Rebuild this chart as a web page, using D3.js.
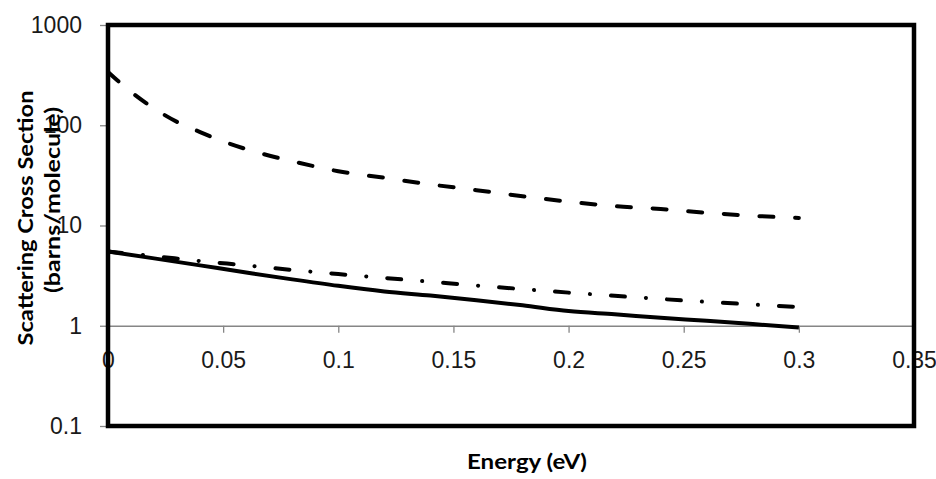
<!DOCTYPE html>
<html>
<head>
<meta charset="utf-8">
<script src="https://cdn.jsdelivr.net/npm/d3@7"></script>
<style>
  body { margin: 0; background: #fff; }
  svg { display: block; }
</style>
</head>
<body>
<svg id="chart" width="936" height="479"></svg>
<script>
// energy (eV) sample points
const energy = [0, 0.02, 0.04, 0.06, 0.08, 0.1, 0.12, 0.14, 0.16, 0.18, 0.2, 0.22, 0.24, 0.26, 0.28, 0.3]
const dashedEnergy = [0, 0.01, 0.02, 0.03, 0.04, 0.05, 0.06, 0.08, 0.1, 0.12, 0.14, 0.16, 0.18, 0.2, 0.22, 0.24, 0.26, 0.28, 0.3]

const dashedVals = [340, 215, 147, 108, 85.5, 69, 57.8, 43.8, 34.8, 29.9, 25.7, 22.5, 19.6, 17.3, 15.6, 14.6, 13.4, 12.5, 11.9]
const dashDotVals = [5.5, 4.95, 4.42, 4.0, 3.6, 3.28, 3.0, 2.75, 2.52, 2.32, 2.14, 1.99, 1.85, 1.73, 1.63, 1.54]
const solidVals = [5.5, 4.7, 4.0, 3.4, 2.9, 2.5, 2.2, 2.0, 1.8, 1.6, 1.4, 1.3, 1.2, 1.12, 1.04, 0.96]

const xTicks = [0, 0.05, 0.1, 0.15, 0.2, 0.25, 0.3, 0.35]
const xTickLabels = ['0', '0.05', '0.1', '0.15', '0.2', '0.25', '0.3', '0.35']
const yTicks = [0.1, 1, 10, 100, 1000]
const yTickLabels = ['0.1', '1', '10', '100', '1000']

let svg = d3.select('#chart')
let pLeft = 108, pRight = 914, pTop = 25, pBottom = 426

let x = d3.scaleLinear().domain([0, 0.35]).range([pLeft, pRight]),
    y = d3.scaleLog().domain([0.1, 1000]).range([pBottom, pTop])

// plot frame background
svg.append('rect')
    .attr('x', pLeft).attr('y', pTop)
    .attr('width', pRight - pLeft).attr('height', pBottom - pTop)
    .style('fill', '#fff')

// y axis ticks / labels
let yAxis = svg.append('g')
    .attr('transform', `translate(${pLeft},0)`)
    .call(d3.axisLeft(y).tickValues(yTicks)
        .tickFormat((d, i) => yTickLabels[i])
        .tickSize(8).tickSizeOuter(0).tickPadding(18))
yAxis.select('.domain').remove()

// x axis sits on y = 1
let xAxis = svg.append('g')
    .attr('transform', `translate(0,${y(1)})`)
    .call(d3.axisBottom(x).tickValues(xTicks)
        .tickFormat((d, i) => xTickLabels[i])
        .tickSize(7).tickSizeOuter(0).tickPadding(19))

svg.selectAll('.tick line, .domain').style('stroke', '#868686').style('stroke-width', 1.3)
svg.selectAll('.tick text')
    .style('font-family', '"Liberation Sans", Arial, sans-serif')
    .style('font-size', '23px')
    .style('fill', '#1a1a1a')

// curves
let line = d3.line().curve(d3.curveMonotoneX)

let series = [
    {xs: dashedEnergy, ys: dashedVals, dash: '14,21.7'},
    {xs: energy, ys: dashDotVals, dash: '14,21,0.1,21'},
    {xs: energy, ys: solidVals, dash: null}
]

svg.append('g').selectAll('path')
    .data(series)
    .join('path')
    .attr('d', s => line(s.xs.map((e, i) => [x(e), y(s.ys[i])])))
    .style('fill', 'none')
    .style('stroke', '#000')
    .style('stroke-width', 4)
    .style('stroke-linecap', s => s.dash ? 'round' : 'butt')
    .style('stroke-dasharray', s => s.dash)

// thick frame on top
svg.append('rect')
    .attr('x', pLeft).attr('y', pTop)
    .attr('width', pRight - pLeft).attr('height', pBottom - pTop)
    .style('fill', 'none')
    .style('stroke', '#000')
    .style('stroke-width', 4.5)

// axis titles
let titleFont = 'Lato, "Liberation Sans Narrow", sans-serif'

svg.append('text')
    .attr('x', 527).attr('y', 469)
    .attr('text-anchor', 'middle')
    .attr('textLength', 120).attr('lengthAdjust', 'spacingAndGlyphs')
    .style('font-family', titleFont).style('font-weight', 'bold').style('font-size', '21px')
    .text('Energy (eV)')

svg.append('text')
    .attr('transform', 'translate(33,218) rotate(-90)')
    .attr('text-anchor', 'middle')
    .attr('textLength', 255).attr('lengthAdjust', 'spacingAndGlyphs')
    .style('font-family', titleFont).style('font-weight', 'bold').style('font-size', '21px')
    .text('Scattering Cross Section')
svg.append('text')
    .attr('transform', 'translate(60,200) rotate(-90)')
    .attr('text-anchor', 'middle')
    .attr('textLength', 186).attr('lengthAdjust', 'spacingAndGlyphs')
    .style('font-family', titleFont).style('font-weight', 'bold').style('font-size', '21px')
    .text('(barns/molecule)')
</script>
</body>
</html>
